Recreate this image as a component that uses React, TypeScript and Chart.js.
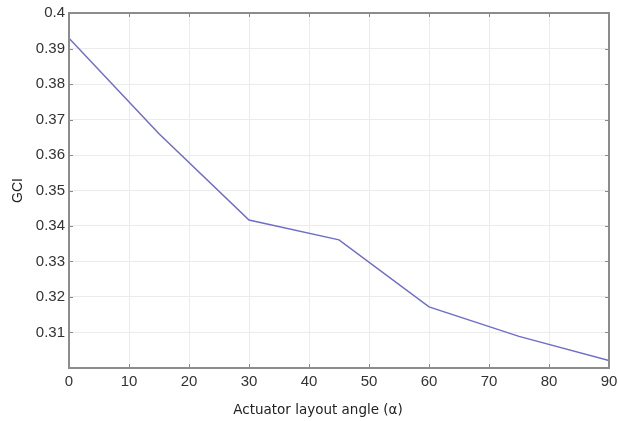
import React, { useEffect, useRef } from "react";
import { Chart, registerables } from "chart.js";

Chart.register(...registerables);

// Actuator layout angle (degrees) and the resulting GCI
const angles = [0, 15, 30, 45, 60, 75, 90];
const gciValues = [0.3929, 0.3660, 0.3417, 0.3361, 0.3172, 0.3089, 0.3021];

const xMin = 0;
const xMax = 90;
const yMin = 0.3;
const yMax = 0.4;

const xAxisLabel = "Actuator layout angle (\u03b1)";

const W = 618;
const H = 421;

// Box frame with inward tick marks on all four sides, plus the x-axis caption
const framePlugin = {
  id: "frame",
  afterDraw(chart: any) {
    const { ctx, chartArea: a, scales } = chart;
    const x = scales.x;
    const y = scales.y;
    ctx.save();
    ctx.strokeStyle = "#8a8a8a";
    ctx.lineWidth = 1;
    const tl = 4;
    ctx.beginPath();
    for (const t of x.ticks) {
      const px = Math.round(x.getPixelForValue(t.value)) + 0.5;
      ctx.moveTo(px, a.bottom);
      ctx.lineTo(px, a.bottom - tl);
      ctx.moveTo(px, a.top);
      ctx.lineTo(px, a.top + tl);
    }
    for (const t of y.ticks) {
      const py = Math.round(y.getPixelForValue(t.value)) + 0.5;
      ctx.moveTo(a.left, py);
      ctx.lineTo(a.left + tl, py);
      ctx.moveTo(a.right, py);
      ctx.lineTo(a.right - tl, py);
    }
    ctx.stroke();
    ctx.lineWidth = 2;
    ctx.strokeStyle = "#8c8c8c";
    ctx.strokeRect(a.left, a.top, a.right - a.left, a.bottom - a.top);

    // caption sits slightly left of the plot centre
    ctx.fillStyle = "#222";
    ctx.font = "13.5px 'DejaVu Sans'";
    ctx.textAlign = "center";
    ctx.textBaseline = "middle";
    ctx.fillText(xAxisLabel, x.getPixelForValue(41.5), a.bottom + 42);
    ctx.restore();
  },
};

export default function App() {
  const ref = useRef<HTMLCanvasElement | null>(null);

  useEffect(() => {
    if (!ref.current) return;
    const chart = new Chart(ref.current, {
      type: "line",
      data: {
        datasets: [
          {
            data: angles.map((a, i) => ({ x: a, y: gciValues[i] })),
            borderColor: "#6e6ec8",
            borderWidth: 1.5,
            pointRadius: 0,
            fill: false,
            tension: 0,
          },
        ],
      },
      options: {
        animation: false,
        responsive: false,
        devicePixelRatio: 1,
        layout: { padding: { left: 0, top: 12, right: 9, bottom: 0 } },
        plugins: { legend: { display: false }, tooltip: { enabled: false } },
        scales: {
          x: {
            type: "linear",
            min: xMin,
            max: xMax,
            afterFit(scale: any) {
              scale.height = 53;
              scale.paddingLeft = 0;
              scale.paddingRight = 0;
            },
            ticks: {
              stepSize: 10,
              color: "#333",
              font: { family: "Liberation Sans", size: 15 },
              padding: 5,
            },
            grid: { color: "#ececec", lineWidth: 1, drawTicks: false },
            border: { display: false },
            title: { display: false },
          },
          y: {
            type: "linear",
            min: yMin,
            max: yMax,
            afterFit(scale: any) {
              scale.width = 69;
            },
            ticks: {
              stepSize: 0.01,
              color: "#333",
              font: { family: "Liberation Sans", size: 15 },
              padding: 4,
              callback: (v: any) => {
                const n = Number(v);
                if (Math.abs(n - yMin) < 1e-9) return "";
                return String(parseFloat(n.toFixed(2)));
              },
            },
            grid: { color: "#ececec", lineWidth: 1, drawTicks: false },
            border: { display: false },
            title: {
              display: true,
              text: "GCI",
              color: "#222",
              font: { family: "Liberation Sans", size: 14 },
              padding: { top: 10, bottom: 0 },
            },
          },
        },
      },
      plugins: [framePlugin],
    });
    return () => chart.destroy();
  }, []);

  return (
    <div style={{ position: "absolute", left: 0, top: 0, width: W, height: H, background: "#fff" }}>
      <canvas ref={ref} width={W} height={H} style={{ width: W, height: H, display: "block" }} />
    </div>
  );
}
